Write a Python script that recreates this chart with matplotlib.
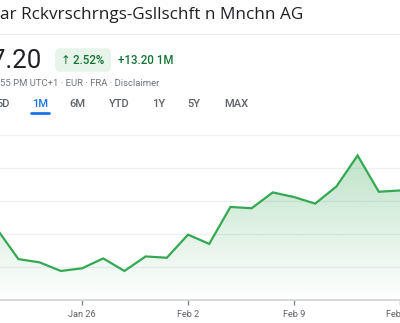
import matplotlib
matplotlib.use("Agg")
import matplotlib.pyplot as plt
import numpy as np
from matplotlib.patches import FancyBboxPatch
from matplotlib.transforms import IdentityTransform
from matplotlib.lines import Line2D

plt.rcParams['font.family'] = ['Roboto', 'DejaVu Sans']

# ---- data ----
dates = ["Jan 20", "Jan 21", "Jan 22", "Jan 23", "Jan 26", "Jan 27", "Jan 28", "Jan 29",
         "Jan 30", "Feb 2", "Feb 3", "Feb 4", "Feb 5", "Feb 6", "Feb 9", "Feb 10",
         "Feb 11", "Feb 12", "Feb 13", "Feb 16"]
prices = [525.7, 521.2, 520.7, 519.4, 519.8, 521.3, 519.4, 521.6, 521.4, 524.9,
          523.5, 529.1, 528.9, 531.3, 530.6, 529.6, 532.2, 536.9, 531.4, 531.6]
tick_labels = ["Jan 26", "Feb 2", "Feb 9", "Feb 16"]
grid_levels = [520, 525, 530, 535, 540]

title = "ar Rckvrschrngs-Gsllschft n Mnchn AG"
price_txt = "7.20"
pct_txt = "\u2191\u20092.52%"
chg_txt = "+13.20 1M"
sub_txt = "55 PM UTC+1 \u00b7 EUR \u00b7 FRA \u00b7 Disclaimer"
tabs = ["5D", "1M", "6M", "YTD", "1Y", "5Y", "MAX"]

W, H = 400, 323
fig = plt.figure(figsize=(W / 100, H / 100), dpi=100)
fig.patch.set_facecolor("white")

def fx(px):
    return px / W

def fy(py):
    return 1 - py / H

green = "#34a853"
dark_green = "#137333"
gray = "#5f6368"

# ---- chart axes ----
x = np.arange(len(dates)) - 4  # Jan 26 -> 0
ax = fig.add_axes([0, fy(300), 1, (300 - 135) / H])
ax.set_xlim(-3.869, 14.71)
ax.set_ylim(515, 540)

for g in grid_levels:
    ax.axhline(g, color="#eeeff1", lw=0.9, zorder=0)

ax.plot(x, prices, color=green, lw=1.6, zorder=3, solid_joinstyle="miter")
poly = ax.fill_between(x, prices, 515, color="none", lw=0)
ymax = max(prices)
grad = np.zeros((256, 1, 4))
c = matplotlib.colors.to_rgb(green)
grad[:, 0, 0] = c[0]
grad[:, 0, 1] = c[1]
grad[:, 0, 2] = c[2]
grad[:, 0, 3] = np.linspace(0.32, 0.0, 256)
im = ax.imshow(grad, extent=[x[0], x[-1], 515, ymax], aspect="auto",
               origin="upper", zorder=2, interpolation="bilinear")
im.set_clip_path(poly.get_paths()[0], transform=ax.transData)

for s in ["top", "left", "right"]:
    ax.spines[s].set_visible(False)
ax.spines["bottom"].set_color("#d0d2d5")
ax.spines["bottom"].set_linewidth(1.2)
ax.set_yticks([])
tick_pos = [dates.index(d) - 4 for d in tick_labels]
ax.set_xticks(tick_pos)
ax.set_xticklabels(tick_labels)
ax.tick_params(axis="x", length=3.5, width=1, color="#80868b", pad=3.5,
               labelsize=6.6, labelcolor=gray)

# ---- header ----
fig.text(fx(-0.5), fy(15), title, fontsize=12.3, color="#202124",
         va="center", ha="left", family=["Open Sans", "DejaVu Sans"])
fig.add_artist(Line2D([0, 1], [fy(33.5), fy(33.5)], color="#e8eaed", lw=0.8))

fig.text(fx(41.7), fy(61), price_txt, fontsize=18.5, color="#202124",
         va="center", ha="right")

badge = FancyBboxPatch((55, H - 71.7), 56, 23.4,
                       boxstyle="round,pad=0,rounding_size=5",
                       transform=IdentityTransform(), facecolor="#e6f4ea",
                       edgecolor="none")
fig.add_artist(badge)
fig.text(fx(83), fy(60), pct_txt, fontsize=8.3, color=dark_green,
         va="center", ha="center", fontweight="medium",
         family=["Roboto", "DejaVu Sans"])
fig.text(fx(118), fy(60), chg_txt, fontsize=8.3, color=dark_green,
         va="center", ha="left", fontweight="medium")

fig.text(fx(-0.5), fy(83.5), sub_txt, fontsize=6.8, color="#70757a",
         va="center", ha="left")

tab_x = [3, 40, 77.7, 119.3, 159, 194, 236.7]
for t, tx in zip(tabs, tab_x):
    col = "#1a73e8" if t == "1M" else gray
    fig.text(fx(tx), fy(104), t, fontsize=8, color=col, va="center",
             ha="center", fontweight="medium")
fig.add_artist(Line2D([fx(31), fx(49)], [fy(113), fy(113)], color="#1a73e8",
                      lw=2, solid_capstyle="round"))

fig.savefig("out.png", dpi=100, facecolor="white")
